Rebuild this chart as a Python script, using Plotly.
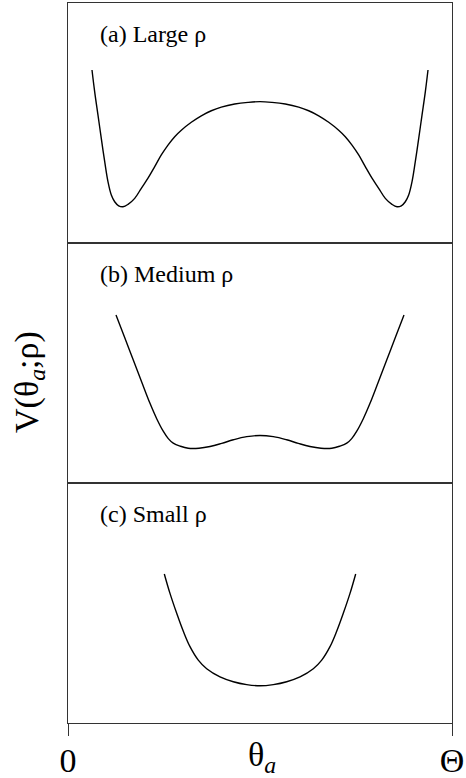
import plotly.graph_objects as go
from plotly.subplots import make_subplots

# Potential V(theta_a; rho) sampled along theta_a in units of Theta (0..1)
theta_large = [0.0625, 0.0695, 0.0781, 0.0867, 0.0956, 0.1042, 0.1128, 0.1216, 0.1320,
               0.1432, 0.1563, 0.1737, 0.1909, 0.2083, 0.2258, 0.2430, 0.2604, 0.2779,
               0.2951, 0.3211, 0.3471, 0.3732, 0.3992, 0.4341, 0.4688, 0.5,
               0.5312, 0.5659, 0.6008, 0.6268, 0.6529, 0.6789, 0.7049, 0.7221, 0.7396,
               0.7570, 0.7742, 0.7917, 0.8091, 0.8263, 0.8437, 0.8568, 0.8680, 0.8784,
               0.8872, 0.8958, 0.9044, 0.9133, 0.9219, 0.9305, 0.9375]
v_large = [0.721, 0.630, 0.533, 0.436, 0.339, 0.255, 0.200, 0.172, 0.155,
           0.151, 0.161, 0.186, 0.228, 0.270, 0.318, 0.367, 0.408, 0.443,
           0.470, 0.503, 0.530, 0.551, 0.566, 0.579, 0.586, 0.589,
           0.586, 0.579, 0.566, 0.551, 0.530, 0.503, 0.470, 0.443, 0.408,
           0.367, 0.318, 0.270, 0.228, 0.186, 0.161, 0.151, 0.155, 0.172,
           0.200, 0.255, 0.339, 0.436, 0.533, 0.630, 0.721]

theta_medium = [0.125, 0.1476, 0.170, 0.1919, 0.2135, 0.2310, 0.248, 0.2612, 0.274,
                0.2930, 0.313, 0.3411, 0.370, 0.4003, 0.4305, 0.4654, 0.5,
                0.5346, 0.5695, 0.5997, 0.630, 0.6589, 0.687, 0.707, 0.726,
                0.7388, 0.752, 0.769, 0.7865, 0.8081, 0.830, 0.8524, 0.875]
v_medium = [0.700, 0.606, 0.5125, 0.421, 0.332, 0.268, 0.216, 0.185, 0.166,
            0.153, 0.145, 0.145, 0.152, 0.165, 0.180, 0.193, 0.198,
            0.193, 0.180, 0.165, 0.152, 0.145, 0.145, 0.153, 0.166,
            0.185, 0.216, 0.268, 0.332, 0.421, 0.5125, 0.606, 0.700]

theta_small = [0.2508, 0.2656, 0.2831, 0.3003, 0.3177, 0.3393, 0.3612, 0.3958, 0.4305,
               0.4653, 0.5, 0.5347, 0.5695, 0.6042, 0.6388, 0.6607, 0.6823, 0.6997,
               0.7169, 0.7344, 0.7492]
v_small = [0.621, 0.540, 0.457, 0.382, 0.318, 0.262, 0.226, 0.192, 0.172,
           0.160, 0.155, 0.160, 0.172, 0.192, 0.226, 0.262, 0.318, 0.382,
           0.457, 0.540, 0.621]

panel_labels = ["(a) Large ρ", "(b) Medium ρ", "(c) Small ρ"]
x_tick_vals = [0, 1]
x_tick_text = ["0", "Θ"]

FONT = "Liberation Serif, Times New Roman, serif"
FRAME = "#333333"

fig = make_subplots(rows=3, cols=1, shared_xaxes=True, vertical_spacing=0)

series = [(theta_large, v_large), (theta_medium, v_medium), (theta_small, v_small)]
for i, (xs, ys) in enumerate(series, start=1):
    fig.add_trace(
        go.Scatter(x=xs, y=ys, mode="lines",
                   line=dict(color="black", width=1.4, shape="spline", smoothing=1.1),
                   showlegend=False, hoverinfo="skip"),
        row=i, col=1,
    )
    fig.update_yaxes(range=[0, 1], showticklabels=False, ticks="", showgrid=False,
                     zeroline=False, showline=True, mirror=True, linecolor=FRAME,
                     linewidth=1.2, automargin=False, row=i, col=1)
    fig.update_xaxes(range=[0, 1], showgrid=False, zeroline=False, showline=True,
                     mirror=True, linecolor=FRAME, linewidth=1.2, automargin=False,
                     row=i, col=1)
    xref = "x domain" if i == 1 else f"x{i} domain"
    yref = "y domain" if i == 1 else f"y{i} domain"
    fig.add_annotation(text=panel_labels[i - 1], xref=xref, yref=yref, x=0.078, y=0.871,
                       xanchor="left", yanchor="middle", showarrow=False,
                       font=dict(family=FONT, size=24, color="black"))

# Only the bottom axis carries ticks
fig.update_xaxes(showticklabels=False, ticks="", row=1, col=1)
fig.update_xaxes(showticklabels=False, ticks="", row=2, col=1)
fig.update_xaxes(tickvals=x_tick_vals, ticktext=x_tick_text, ticks="outside", ticklen=12,
                 tickwidth=1.2, tickcolor=FRAME, showticklabels=True, ticklabelstandoff=-5,
                 tickfont=dict(family=FONT, size=34, color="black"), row=3, col=1)

fig.add_annotation(text="θ<i><sub>a</sub></i>", xref="paper", yref="paper",
                   x=0.505, y=-0.047, xanchor="center", yanchor="middle", showarrow=False,
                   font=dict(family=FONT, size=34, color="black"))
fig.add_annotation(text="V(θ<sub><i>a</i></sub>;ρ)", xref="paper", yref="paper",
                   x=-0.1016, y=0.4736, xanchor="center", yanchor="middle", showarrow=False,
                   textangle=-90, font=dict(family=FONT, size=34, color="black"))

fig.update_layout(width=466, height=778, margin=dict(l=68, r=14, t=3, b=55),
                  plot_bgcolor="white", paper_bgcolor="white")

fig.write_html("out.html")
